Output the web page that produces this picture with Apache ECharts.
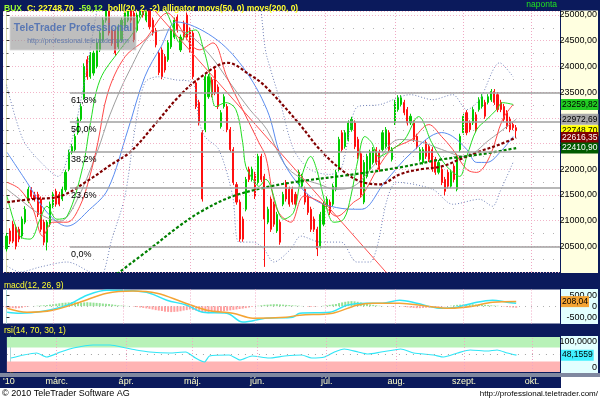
<!DOCTYPE html>
<html><head><meta charset="utf-8">
<script src="https://cdn.jsdelivr.net/npm/echarts@6/dist/echarts.min.js"></script>
<style>
html,body{margin:0;padding:0;background:#fff}
#wrap{position:relative;width:600px;height:400px;background:#0b1a5c;overflow:hidden}
#wrap .bg{position:absolute}
#c{position:absolute;left:0;top:0;width:600px;height:400px}
</style>
</head><body>
<div id="wrap">
  <div class="bg" style="left:560.5px;top:10px;width:37.5px;height:263px;background:#ffffe0"></div>
  <div class="bg" style="left:560.5px;top:289px;width:37.5px;height:35px;background:#e2ffff"></div>
  <div class="bg" style="left:560.5px;top:336px;width:37.5px;height:37px;background:#e2ffff"></div>
  <div class="bg" style="left:0;top:373px;width:600px;height:4px;background:#8088a0"></div>
  <div class="bg" style="left:560.5px;top:377px;width:39.5px;height:11px;background:#fff"></div>
  <div class="bg" style="left:0;top:388px;width:600px;height:12px;background:#fff"></div>
  <div id="c"></div>
</div>
<script>
// ---------- DATA ----------
// daily candles: [open, close, low, high], index 0 = first trading day shown
const candles = [
[20450,20700,20400,20760],[20800,20600,20540,20850],[20930,20600,20560,20990],[20870,20500,20440,20920],[20830,20640,20580,20880],
[20700,21030,20650,21080],[20970,21220,20930,21280],[21380,21610,21340,21660],[21600,21470,21420,21650],[21500,21420,21370,21560],
[21510,21120,21070,21560],[21420,20830,20780,21470],[20970,20580,20520,21020],[20580,20970,20420,21010],[20930,21320,20880,21370],
[21280,21510,21240,21560],[21570,21320,21270,21620],[21510,21320,21280,21560],[21420,21610,21380,21660],[21600,21940,21560,21990],
[22000,22330,21960,22380],[22330,22440,22290,22490],[22380,22640,22340,22690],[22710,22970,22670,23020],[22970,23220,22930,23280],
[23400,24000,23350,24060],[24130,23800,23740,24200],[23800,24220,23760,24280],[23870,24260,23820,24310],[24000,24460,23960,24520],
[24320,24650,24280,24700],[24510,24900,24470,24960],[24900,25150,24850,25220],[25100,24650,24600,25160],[24700,24450,24400,24760],
[24700,24260,24210,24750],[24380,24770,24340,24820],[24510,24900,24470,24950],[24770,25060,24730,25110],[24900,25140,24860,25200],
[25100,24900,24850,25160],[25040,24520,24470,25090],[24700,25000,24660,25050],[25000,25200,24950,25260],[25200,25000,24950,25250],
[24900,25150,24860,25200],[25100,24770,24720,25340],[24900,24650,24600,24950],[24700,24420,24370,24750],[24260,23880,23830,24310],
[24320,23800,23750,24370],[24190,23930,23880,24240],[24130,24460,24090,24510],[24380,24710,24340,24760],[24570,24900,24530,24950],
[24960,24710,24660,25010],[24320,24570,24280,24620],[24840,24570,24520,24890],[25000,24570,24520,25050],[24710,24320,24270,24760],
[24650,23800,23750,24700],[23680,23220,23170,23730],[23300,22900,22850,23350],[22710,21420,21370,22760],[22770,23800,22720,23850],
[23410,23800,23370,23850],[23740,23450,23400,23790],[23930,23490,23440,23980],[23600,23220,23170,23650],[22830,23100,22790,23150],
[23220,23410,23180,23460],[23220,22770,22720,23270],[22770,22380,22330,22820],[22380,21740,21690,22430],[21700,21360,21310,21750],
[21360,20640,20590,21410],[21030,20640,20590,21080],[21220,21800,21180,21850],[22000,21800,21750,22050],[21800,22000,21760,22050],
[21900,21470,21420,21950],[21740,22250,21700,22300],[22250,21800,21750,22300],[21860,21030,20100,21910],[20970,21220,20930,21270],
[21420,20830,20780,21470],[21320,20930,20880,21370],[20800,21120,20760,21170],[20970,20580,20530,21020],[21320,21510,21280,21560],
[21740,21420,21370,21790],[21610,21320,21270,21660],[21610,21360,21310,21660],[21510,21320,21270,21560],[21740,21940,21700,21990],
[21670,21860,21630,21910],[21610,21360,21310,21660],[21470,21160,21110,21520],[21220,20830,20780,21270],[21030,20830,20780,21080],
[20830,20450,20310,20880],[20500,21120,20460,21170],[20930,21320,20890,21370],[21280,21420,21240,21470],[21360,21160,21110,21410],
[21320,21670,21280,21720],[21610,21940,21570,21990],[22000,22580,21960,22630],[22710,22380,22330,22760],[22440,22710,22400,22760],
[22580,22900,22540,22950],[22770,22970,22730,23020],[22900,22440,22390,22950],[22580,22250,22200,22630],[22300,21500,21450,22350],
[21360,22130,21320,22180],[21860,22250,21820,22300],[22000,22330,21960,22380],[22130,22380,22090,22430],[22380,22130,22080,22430],
[22330,22000,21950,22380],[22380,22710,22340,22760],[22440,22770,22400,22820],[22710,22380,22330,22760],[22190,22380,22150,22430],
[22900,23300,22860,23350],[23160,23390,23120,23440],[23260,23390,23220,23440],[23300,23100,23050,23350],[23160,22900,22850,23210],
[22900,23030,22860,23080],[22900,22580,22530,22950],[22640,22440,22390,22690],[22190,22380,22150,22430],[22130,22380,22090,22430],
[22520,22250,22200,22570],[22440,22190,22140,22490],[22380,22000,21950,22430],[22190,21940,21890,22240],[21940,22130,21900,22180],
[22000,21740,21690,22050],[21800,21570,21490,21850],[21940,21670,21620,21990],[21670,21940,21630,21990],[22060,21800,21750,22110],
[21610,22250,21570,22300],[22380,22640,22340,22690],[22710,23030,22670,23080],[23100,22710,22660,23150],[22900,22770,22720,22950],
[22900,23160,22860,23210],[23060,22770,22720,23110],[23160,23350,23120,23400],[23220,23410,23180,23460],[23300,23030,22980,23350],
[23300,23410,23260,23460],[23350,23510,23310,23560],[23510,23300,23250,23560],[23450,23160,23110,23500],[23300,23160,23110,23350],
[23220,22970,22920,23270],[23100,22830,22780,23150],[22970,22770,22720,23020],[22870,22808,22760,22920],[22808,22749,22620,22860]
];
// indicator lines: [dayIndex, value]
const ma200 = [[35.5,19961],[46.1,20446],[55.1,20872],[62.2,21163],[71.9,21453],[83.4,21647],[94.4,21764],[111.7,21899],[126.5,22035],[140,22190],[152.2,22287],[164,22411]];
const ma50 = [[0.2,21357],[7.6,21415],[17.2,21473],[26.8,21802],[33.3,22074],[40,22345],[47.7,22868],[55.1,23391],[62.2,23779],[71.2,24070],[78.3,23837],[83.4,23605],[94.4,22868],[100.8,22384],[107.6,21996],[113.7,21764],[120.1,21705],[126.5,21899],[132.9,21996],[140,22054],[145.8,22190],[152.2,22345],[158.7,22481],[164,22616]];
const bollMid = [[0.2,21609],[4.3,21415],[10.8,21124],[17.2,20988],[22,21318],[29.1,22326],[33.3,23062],[39.7,23934],[47.1,24651],[52.6,24709],[58,24651],[65.4,24225],[71.9,23682],[78.3,23159],[83.8,22771],[89.5,22093],[94.4,21841],[100.8,21705],[105.6,21609],[111.7,21667],[118.5,22093],[126.5,22578],[132.9,22539],[140,22384],[147.4,22248],[155.5,22578],[164,22973]];
const bollUp = [[0,23643],[5.3,22578],[10.8,22151],[16.6,21860],[21.1,22578],[25.2,23740],[29.1,25097],[31.7,25872],[76.7,25872],[83.8,24186],[87.9,23353],[92.4,22384],[97.6,21996],[104,21899],[107.6,21996],[110.5,22771],[113,23217],[120.1,23256],[129.9,23450],[137.1,23353],[143.6,23450],[148.1,23159],[152.2,23353],[158.7,24070],[163,23798]];
const bollLo = [[0.2,20116],[4.3,20000],[10.8,20097],[19.5,20194],[26.8,20000],[30.1,19903],[33.9,20640],[38.1,21473],[41.3,22771],[44.5,23682],[48.7,23798],[54.2,23740],[60,23682],[61.9,22965],[63.8,22636],[68.3,22384],[72.8,21473],[74.8,20582],[79.3,20582],[82.8,20446],[86,20194],[91.5,20446],[94.7,20698],[101.1,20582],[107.6,20582],[112.7,20194],[116.9,20194],[119.3,20504],[122.5,21415],[125.6,21744],[137.1,21609],[143.6,21318],[152.2,21415],[156.4,21279],[158.7,21550],[163,22132]];
const jaw = [[0.2,22326],[6.6,21744],[13,21163],[19.5,20892],[26.8,21221],[32.6,21609],[39.1,22771],[44.5,23798],[49.7,24380],[54.8,24864],[66.4,24574],[76,23992],[83.8,23159],[88.3,22248],[93.4,21744],[98.9,21415],[104.3,21279],[111.7,21221],[114.3,21221],[121.7,21744],[130.4,22326],[140,22713],[143.6,22636],[148.1,22384],[151.3,22132],[154.5,22132],[159.6,22384],[163,22636]];
const teeth = [[0.2,21744],[4.3,21609],[8.5,21221],[11.7,20698],[14.9,20969],[19.5,20969],[23.6,21279],[26.8,21860],[29.4,22519],[32.6,23488],[38.1,24186],[44.5,24516],[51.9,25039],[53.5,24961],[62.2,24322],[66.4,24457],[70.9,23798],[76,23159],[81.2,22519],[83.4,22248],[87,21221],[91.5,20969],[95.7,21473],[101.1,21357],[106.3,21085],[111.7,21357],[114.3,21473],[119.8,22054],[124,22384],[130.4,22578],[135.9,22868],[140,22636],[143.6,22384],[148.1,21996],[151.3,21938],[155.5,22248],[159.6,22965],[163,23256]];
const lips = [[0.2,21473],[4.3,20698],[7.6,20640],[10.8,21027],[13,21279],[16.2,21027],[19.5,21085],[24.6,22054],[26.8,22829],[30.1,23740],[36.5,24322],[40.7,24651],[43.9,25039],[46.1,25252],[49.4,25194],[51.6,25039],[53.5,24767],[55.8,24457],[58,24651],[60.9,24709],[63.2,24380],[65.1,23934],[67.4,23217],[70.6,23295],[73.8,23159],[76,22519],[77,22054],[79.3,21802],[81.2,21667],[83.4,21802],[89.2,21027],[92.4,21163],[94.7,21802],[97.9,22248],[99.8,21996],[103.1,21221],[105.3,20969],[108.5,21027],[110.8,21473],[113.3,22248],[115.3,22636],[117.5,22519],[119.8,22248],[124,22384],[128.1,22578],[132.6,23023],[136.8,22519],[140,22190],[142.6,21996],[145.8,21860],[148.1,22248],[151.3,22771],[154.5,22965],[157.7,23159],[159.6,23295],[163,23260]];
const trendLine = [[46.1,25194],[124.9,19806]];
const fibValues = [23488, 22915, 22341, 21632, 20485];
const fibLabels = ['61,8%', '50,0%', '38,2%', '23,6%', '0,0%'];
const fibStart = 20.4;
const mainTagValues = [23259.82, 22972.69, 22748.70, 22616.35, 22410.90];
// MACD panel
const macdLine = [[0.2,-273],[4.3,-318],[11.7,-227],[19.5,45],[25.9,500],[32.3,730],[40.7,700],[46.1,591],[51.6,273],[58,45],[63.2,-273],[70.9,-318],[76,-727],[83.8,-545],[92.1,-500],[94.4,-318],[104,-273],[109.5,45],[115.9,136],[121,136],[126.5,273],[132,136],[139.4,-91],[144.9,-45],[150,136],[156.4,273],[161,182],[164,136]];
const signalLine = [[0.2,-91],[6.6,-273],[14.9,-182],[23.6,182],[32.3,591],[40.7,690],[48.4,591],[56.8,182],[64.5,-182],[72.8,-318],[79.3,-545],[89.9,-500],[94.4,-409],[105,-318],[112.7,45],[117.8,136],[126.5,136],[135.2,0],[142.6,-91],[150,0],[156.4,182],[164,208.04]];
const macdHist = [
-60,-80,-90,-100,-90,-70,-40,
-20,0,10,20,30,40,50,
70,90,110,130,150,160,170,180,180,170,160,170,180,170,160,150,140,120,110,100,80,60,40,
30,20,10,0,-20,-40,-60,-80,-100,
-120,-150,-180,-200,-220,-250,-260,-270,-260,-250,-230,-200,-180,-150,
-170,-200,-240,-280,-300,-320,-310,-290,-270,-250,-230,-210,-190,-170,-150,-130,-110,-90,-60,
-30,0,20,40,60,70,80,90,90,80,70,60,50,40,30,20,10,
0,-20,-30,-20,-10,0,20,40,60,80,100,
140,170,200,220,230,220,200,170,140,
110,80,60,40,20,10,0,-10,-20,-10,0,-10,-30,-50,
-70,-80,-90,-90,-80,-70,-60,-50,-40,-30,
-20,-10,0,20,40,
60,70,80,90,90,90,80,80,70,60,50,40,30,20,
0,-20,-40,-50,-60,-70];
const macdTicks = [-500, 0, 500];
const macdTagValue = 208.04;
// RSI panel
const rsi = [[0.2,40],[4.3,48.6],[8.5,54.3],[11.7,42.9],[16.2,57.1],[20.4,68.6],[26.8,77.1],[32.3,77.1],[37.5,68.6],[40.7,62.9],[45.2,57.1],[51.6,54.3],[56.8,57.1],[60,40],[62.9,28.6],[64.5,45.7],[70.9,48.6],[74.4,34.3],[78.3,45.7],[83.8,40],[88.9,45.7],[94.4,48.6],[97.6,40],[101.8,42.9],[105,57.1],[108.2,65.7],[112.7,57.1],[115.9,51.4],[120.1,57.1],[124.3,62.9],[126.5,65.7],[130.7,54.3],[137.1,48.6],[140.4,42.9],[144.9,54.3],[149,62.9],[154.5,60],[157.7,62.9],[161,54.3],[164,48.1559]];
const rsiTicks = [0, 100];
const rsiZones = [[70, 100], [0, 30]];
const rsiTagValue = 48.1559;
// time axis
const monthLines = [15, 37.5, 59, 80, 102.5, 125, 147, 169];
const dateTickValues = [-0.5, 15, 37.5, 59, 80, 102.5, 125, 147, 169];
const dateTickLabels = ["'10", 'márc.', 'ápr.', 'máj.', 'jún.', 'júl.', 'aug.', 'szept.', 'okt.'];

// ---------- FONT ----------
function hasFont(name){
  const c = document.createElement('canvas').getContext('2d');
  const s = 'mmmmmllii0123456789WW';
  c.font = '20px monospace'; const a = c.measureText(s).width;
  c.font = "20px '" + name + "', monospace"; const b = c.measureText(s).width;
  return a !== b;
}
const NARROW = hasFont('Liberation Sans Narrow');
const F = NARROW ? "'Liberation Sans Narrow', 'Liberation Sans', sans-serif" : "'Liberation Sans', Arial, sans-serif";
const FS = NARROW ? 10 : 9;      // axis labels
const FH = NARROW ? 10 : 8.5;    // header / panel titles
const FT = NARROW ? 10 : 8.5;    // value tags

// ---------- LAYOUT ----------
const XMIN = -1.125, XMAX = 178.1;
const L = 3, R = 39.5;
const NAVY = '#0b1a5c';
const fmt2 = v => v.toFixed(2).replace('.', ',');

const chart = echarts.init(document.getElementById('c'), null, {renderer: 'canvas'});

function xAx(gi, showLabels){
  return {
    type: 'value', gridIndex: gi, min: XMIN, max: XMAX,
    axisLine: {show: false}, axisTick: {show: false}, splitLine: {show: false},
    axisLabel: showLabels ? {
      show: true, customValues: dateTickValues, color: '#ffffc8', fontFamily: F, fontSize: FS, margin: 5,
      formatter: v => { const k = dateTickValues.indexOf(v); return k >= 0 ? dateTickLabels[k] : ''; }
    } : {show: false}
  };
}

function monthLineSeries(xi){
  return {
    type: 'line', xAxisIndex: xi, yAxisIndex: xi, data: [], z: 1, silent: true,
    markLine: {
      silent: true, symbol: ['none', 'none'], animation: false, label: {show: false},
      lineStyle: {color: '#f0a8c4', type: [1, 2], width: 1},
      data: monthLines.map(v => ({xAxis: v}))
    }
  };
}

function lineS(data, color, width, type, z, smooth){
  return {
    type: 'line', xAxisIndex: 0, yAxisIndex: 0, data: data, showSymbol: false, symbol: 'none',
    smooth: smooth === undefined ? 0.35 : smooth, silent: true, z: z || 3, clip: true,
    lineStyle: {color: color, width: width, type: type || 'solid'}
  };
}

function tag(v, text, bg, fg){
  return {
    yAxis: v,
    lineStyle: {color: 'rgba(0,0,0,0)', width: 0, opacity: 1},
    label: {show: true, position: 'end', distance: 1, formatter: text, backgroundColor: bg, color: fg, opacity: 1,
      fontFamily: F, fontSize: FT, padding: [1, 1, 0, 1], lineHeight: 10}
  };
}

function tagSeries(xi, items){
  return {
    type: 'line', xAxisIndex: xi, yAxisIndex: xi, data: [], z: 6, silent: true, clip: false,
    markLine: {silent: true, symbol: ['none', 'none'], animation: false, data: items}
  };
}

const mainTagColors = [['#22cc22', '#000'], ['#a8a8a8', '#000'], ['#ffff00', '#000'], ['#800000', '#fff'], ['#005a00', '#fff']];
const titleZ = 300;

const option = {
  animation: false,
  backgroundColor: 'transparent',
  textStyle: {fontFamily: F},
  title: [
    {z: titleZ, left: 4, top: 0, padding: 0, text: '{g|BUX} {y|C: 22748,70} {g|-59,12} {y|boll(20, 2, -2) alligator movs(50, 0) movs(200, 0)}',
      textStyle: {rich: {g: {color: '#9cff30', fontFamily: F, fontSize: FH}, y: {color: '#ffff30', fontFamily: F, fontSize: FH}}}},
    {z: titleZ, right: 43, top: 0, padding: 0, text: 'naponta', textStyle: {color: '#20e020', fontFamily: F, fontSize: FH, fontWeight: 'normal'}},
    {z: titleZ, left: 4, top: 281, padding: 0, text: 'macd(12, 26, 9)', textStyle: {color: '#ffff30', fontFamily: F, fontSize: FH, fontWeight: 'normal'}},
    {z: titleZ, left: 4, top: 326, padding: 0, text: 'rsi(14, 70, 30, 1)', textStyle: {color: '#ffff30', fontFamily: F, fontSize: FH, fontWeight: 'normal'}},
    {z: titleZ, left: 2, top: 389, padding: 0, text: '© 2010 TeleTrader Software AG', textStyle: {color: '#000', fontFamily: F, fontSize: FS, fontWeight: 'normal'}},
    {z: titleZ, right: 2, top: 390, padding: 0, text: 'http://professional.teletrader.com/', textStyle: {color: '#000', fontFamily: F, fontSize: FS - 1, fontWeight: 'normal'}}
  ],
  graphic: {
    z: 200,
    elements: [
      // header bar covers candles that rise above the plot top
      {type: 'rect', z: 200, shape: {x: 0, y: 0, width: 600, height: 10.5}, style: {fill: NAVY}},
      {type: 'rect', z: 210, shape: {x: 10, y: 17, width: 126, height: 33}, style: {fill: 'rgba(150,150,150,0.62)', stroke: 'rgba(215,215,215,0.8)', lineWidth: 1}},
      {type: 'text', z: 211, x: 73, y: 23, style: {text: 'TeleTrader Professional', fill: '#5a78b4', font: 'bold ' + (NARROW ? 12 : 10.5) + 'px ' + F, align: 'center'}},
      {type: 'text', z: 211, x: 78, y: 37.5, style: {text: 'http://professional.teletrader.com', fill: '#6078aa', font: '7px ' + F, align: 'center'}}
    ]
  },
  grid: [
    {left: L, right: R, top: 11, height: 261, show: true, backgroundColor: '#ffffff', borderWidth: 0},
    {left: L, right: R, top: 289.5, height: 34, show: true, backgroundColor: '#ffffff', borderWidth: 0},
    {left: L, right: R, top: 337, height: 35, show: true, backgroundColor: '#ffffff', borderWidth: 0}
  ],
  xAxis: [xAx(0, false), xAx(1, false), xAx(2, true)],
  yAxis: [
    {type: 'value', gridIndex: 0, position: 'right', min: 20000, max: 25078, interval: 500,
      axisLine: {show: true, lineStyle: {color: '#d8d8b0'}},
      axisTick: {show: true, length: 3, lineStyle: {color: '#303030'}},
      minorTick: {show: true, splitNumber: 2, length: 2, lineStyle: {color: '#606060'}},
      axisLabel: {color: '#000', fontFamily: F, fontSize: FS, align: 'right', margin: 37, showMinLabel: false, showMaxLabel: false, formatter: fmt2},
      splitLine: {show: true, lineStyle: {color: '#f2b4c8', type: [1, 2], width: 1}},
      minorSplitLine: {show: true, lineStyle: {color: '#b4b4b4', type: [1, 9], width: 1}}},
    {type: 'value', gridIndex: 1, position: 'right', min: -790, max: 760,
      axisLine: {show: true, lineStyle: {color: '#b0d8d8'}},
      axisTick: {show: true, length: 3, customValues: macdTicks, lineStyle: {color: '#303030'}},
      axisLabel: {color: '#000', fontFamily: F, fontSize: FS, align: 'right', margin: 37, customValues: macdTicks,
        formatter: v => v === 0 ? '0' : fmt2(v)},
      splitLine: {show: false}},
    {type: 'value', gridIndex: 2, position: 'right', min: 0, max: 100,
      axisLine: {show: true, lineStyle: {color: '#b0d8d8'}},
      axisTick: {show: true, length: 3, customValues: rsiTicks, lineStyle: {color: '#303030'}},
      axisLabel: {color: '#000', fontFamily: F, fontSize: FS, align: 'right', margin: 37, customValues: rsiTicks,
        verticalAlignMaxLabel: 'top', verticalAlignMinLabel: 'bottom',
        formatter: v => v === 0 ? '0' : v.toFixed(4).replace('.', ',')},
      splitLine: {show: false}}
  ],
  series: [
    monthLineSeries(0), monthLineSeries(1), monthLineSeries(2),
    {
      type: 'candlestick', xAxisIndex: 0, yAxisIndex: 0, z: 2, silent: true, barWidth: 1.6, clip: true,
      encode: {x: 0, y: [1, 2, 3, 4]},
      data: candles.map((r, i) => [i, r[0], r[1], r[2], r[3]]),
      itemStyle: {color: '#00cc00', color0: '#ff1010', borderColor: '#00cc00', borderColor0: '#ff1010', borderWidth: 1},
      markLine: {
        silent: true, symbol: ['none', 'none'], animation: false,
        lineStyle: {color: '#a0a0a0', width: 1.5, type: 'solid'},
        label: {show: true, position: 'insideStartBottom', color: '#000', fontFamily: F, fontSize: FS, distance: [1, 3]},
        data: fibValues.map((v, k) => [{coord: [fibStart, v], label: {formatter: fibLabels[k]}}, {coord: [XMAX, v]}])
      }
    },
    lineS(bollUp, '#7080b8', 1, [1, 2], 3, 0.3),
    lineS(bollLo, '#7080b8', 1, [1, 2], 3, 0.3),
    lineS(bollMid, '#a0a0a0', 1, 'solid', 3),
    lineS(jaw, '#5a8cf0', 1, 'solid', 3),
    lineS(teeth, '#ff4848', 1, 'solid', 3),
    lineS(lips, '#22dd22', 1, 'solid', 3),
    lineS(trendLine, '#ff5050', 1, 'solid', 3, false),
    lineS(ma50, '#800000', 2.2, [3, 2], 4),
    lineS(ma200, '#008000', 2.2, [3, 2], 4),
    tagSeries(0, mainTagValues.map((v, k) => tag(v, fmt2(v), mainTagColors[k][0], mainTagColors[k][1]))),
    // MACD panel
    {
      type: 'bar', xAxisIndex: 1, yAxisIndex: 1, barWidth: 2, silent: true, z: 2,
      data: macdHist.map((v, i) => ({value: [i, v], itemStyle: {color: v >= 0 ? 'rgba(60,200,60,0.55)' : 'rgba(255,80,80,0.55)'}})),
      markLine: {silent: true, symbol: ['none', 'none'], animation: false, label: {show: false},
        lineStyle: {color: '#b0b0b0', type: [1, 5], width: 1}, data: [{yAxis: 0}]}
    },
    {type: 'line', xAxisIndex: 1, yAxisIndex: 1, data: macdLine, showSymbol: false, smooth: 0.35, silent: true, z: 3,
      lineStyle: {color: '#30e6f6', width: 1.5}},
    {type: 'line', xAxisIndex: 1, yAxisIndex: 1, data: signalLine, showSymbol: false, smooth: 0.35, silent: true, z: 3,
      lineStyle: {color: '#f4a434', width: 1.5}},
    tagSeries(1, [tag(macdTagValue, fmt2(macdTagValue), '#f4a434', '#000')]),
    // RSI panel
    {type: 'line', xAxisIndex: 2, yAxisIndex: 2, data: rsi, showSymbol: false, smooth: 0.2, silent: true, z: 3,
      lineStyle: {color: '#30e6f6', width: 1.2},
      markArea: {silent: true, data: [
        [{yAxis: rsiZones[0][0], itemStyle: {color: '#b8f2b8'}}, {yAxis: rsiZones[0][1]}],
        [{yAxis: rsiZones[1][0], itemStyle: {color: '#ffb4b4'}}, {yAxis: rsiZones[1][1]}]
      ]},
      markLine: {silent: true, symbol: ['none', 'none'], animation: false, label: {show: false},
        data: [{yAxis: 50, lineStyle: {color: '#a0a0a0', type: [1, 6], width: 1}}]}},
    tagSeries(2, [tag(rsiTagValue, rsiTagValue.toFixed(4).replace('.', ','), '#40f0ff', '#000')])
  ]
};
chart.setOption(option);
</script>
</body></html>
